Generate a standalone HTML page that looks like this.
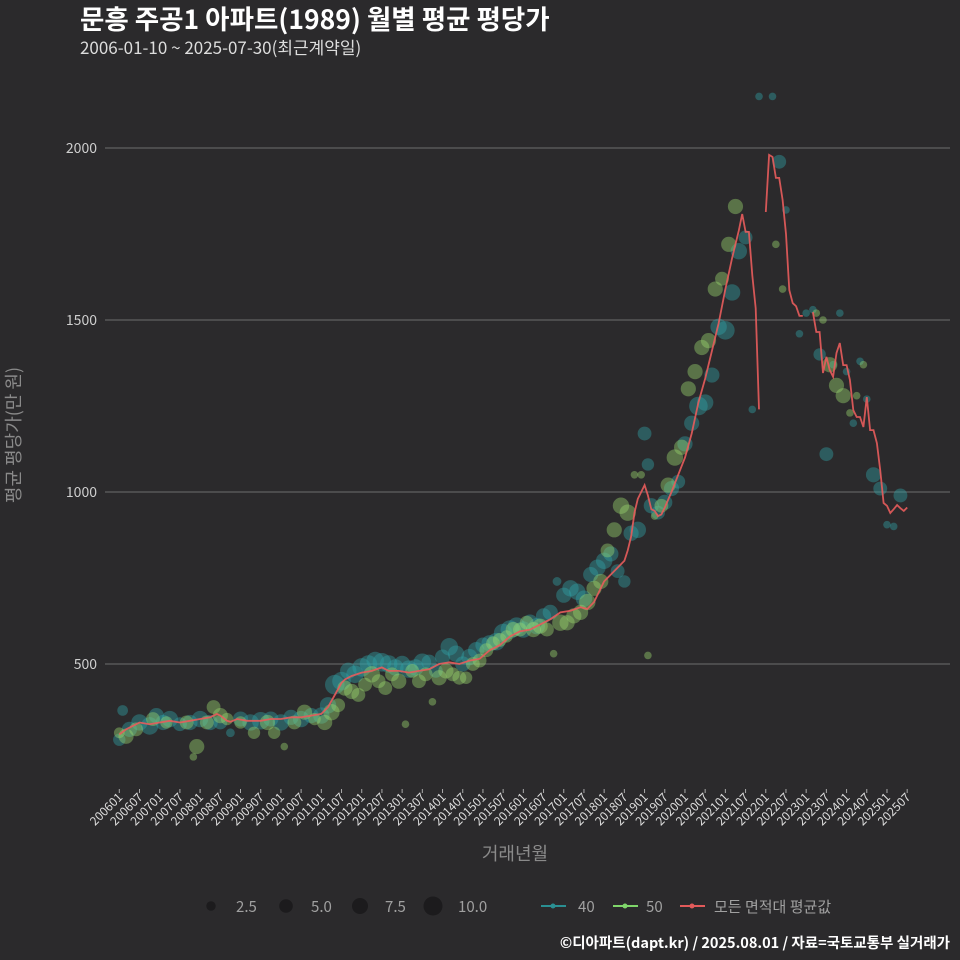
<!DOCTYPE html>
<html><head><meta charset="utf-8">
<style>
html,body{margin:0;padding:0;background:#2b2a2c;overflow:hidden;width:960px;height:960px;}
svg{display:block;}
svg text{font-family:"Noto Sans CJK KR","Liberation Sans",sans-serif;}
</style></head>
<body>
<svg id="chart" width="960" height="960" viewBox="0 0 960 960" xmlns="http://www.w3.org/2000/svg">
<rect width="960" height="960" fill="#2b2a2c"/>
<text x="80" y="29" fill="#ffffff" font-size="26.5" font-weight="bold">문흥 주공1 아파트(1989) 월별 평균 평당가</text>
<text x="80" y="54" fill="#dddddd" font-size="17">2006-01-10 ~ 2025-07-30(최근계약일)</text>
<g id="grid"></g>
<g id="bubbles40"></g>
<g id="bubbles50"></g>
<g id="avgline"></g>
<g id="xaxis"></g>
<text x="0" y="0" transform="translate(20,435) rotate(-90)" text-anchor="middle" fill="#8a8a8a" font-size="18">평균 평당가(만 원)</text>
<text x="515" y="860" text-anchor="middle" fill="#8a8a8a" font-size="18">거래년월</text>
<g>
<circle cx="211" cy="906" r="4.7" fill="#1c1b1d"/>
<text x="236" y="912" fill="#a0a0a0" font-size="15">2.5</text>
<circle cx="286" cy="906" r="6.8" fill="#1c1b1d"/>
<text x="311" y="912" fill="#a0a0a0" font-size="15">5.0</text>
<circle cx="360" cy="906" r="8" fill="#1c1b1d"/>
<text x="385" y="912" fill="#a0a0a0" font-size="15">7.5</text>
<circle cx="433" cy="906" r="9.5" fill="#1c1b1d"/>
<text x="458" y="912" fill="#a0a0a0" font-size="15">10.0</text>
<line x1="541" y1="906" x2="566" y2="906" stroke="#2a8f92" stroke-width="2"/>
<circle cx="553" cy="906" r="2.5" fill="#2a8f92"/>
<text x="578" y="912" fill="#a0a0a0" font-size="15">40</text>
<line x1="613" y1="906" x2="638" y2="906" stroke="#7fd66a" stroke-width="2"/>
<circle cx="625" cy="906" r="2.5" fill="#7fd66a"/>
<text x="646" y="912" fill="#a0a0a0" font-size="15">50</text>
<line x1="680" y1="906" x2="705" y2="906" stroke="#e25a5a" stroke-width="2"/>
<circle cx="692" cy="906" r="2.5" fill="#e25a5a"/>
<text x="714" y="912" fill="#a0a0a0" font-size="15">모든 면적대 평균값</text>
</g>
<text x="950" y="948" text-anchor="end" fill="#ffffff" font-size="14.5" font-weight="bold">©디아파트(dapt.kr) / 2025.08.01 / 자료=국토교통부 실거래가</text>
</svg>
<script>
// y ticks
const yTicks = [500, 1000, 1500, 2000];
// x tick labels (every 6 months from 200601)
const xTickLabels = ["200601","200607","200701","200707","200801","200807","200901","200907","201001","201007","201101","201107","201201","201207","201301","201307","201401","201407","201501","201507","201601","201607","201701","201707","201801","201807","201901","201907","202001","202007","202101","202107","202201","202207","202301","202307","202401","202407","202501","202507"];
// series 40: month index from 2006-01, value, size
const s40Months = [0,1,3,6,9,11,13,15,18,21,24,27,30,33,36,39,42,45,48,51,54,57,60,62,64,66,68,70,72,74,76,78,80,82,84,86,88,90,92,94,96,98,100,102,104,106,108,110,112,114,116,118,120,122,124,126,128,130,132,134,136,138,140,142,144,146,148,150,152,154,156,157,158,160,162,164,166,168,170,172,174,176,178,180,182,184,186,188,190,194,196,198,202,204,206,208,210,212,214,216,218,220,222,224,226,228,230,232];
const s40Values = [280,365,310,330,320,350,330,340,325,330,340,330,330,300,340,330,335,340,330,345,340,350,350,380,440,450,480,470,490,500,510,505,500,490,500,485,490,505,505,480,520,550,530,500,520,540,555,560,565,590,600,610,600,620,610,640,650,740,700,720,710,690,760,780,800,820,770,740,880,890,1170,1080,960,940,970,1010,1030,1140,1200,1250,1260,1340,1480,1470,1580,1700,1740,1240,2150,2150,1960,1820,1460,1520,1530,1400,1110,1370,1520,1350,1200,1380,1270,1050,1010,905,900,990];
const s40Sizes = [4,3,6,7,8,6,6,7,5,6,7,6,5,2,6,7,8,6,7,6,7,6,7,7,10,9,7,8,9,8,8,9,8,7,7,8,7,8,6,5,6,8,7,6,7,7,6,7,8,9,9,8,7,7,7,6,6,2,6,7,7,7,6,7,7,6,5,4,6,7,5,4,6,5,6,6,5,6,6,9,7,6,7,9,7,7,5,1.5,1.5,1.5,5,1.5,1.5,1.5,1.5,4,5,1.5,1.5,1.5,1.5,1.5,1.5,6,5,1.5,1.5,5];
// series 50
const s50Months = [0,2,5,10,14,20,22,23,26,28,30,32,36,40,44,46,49,52,55,58,61,63,65,67,69,71,73,75,77,79,81,83,85,87,89,91,93,95,97,99,101,103,105,107,109,111,113,115,117,119,121,123,125,127,129,131,133,135,137,139,141,143,145,147,149,151,153,155,157,159,161,163,165,167,169,171,173,175,177,179,181,183,195,197,207,209,211,213,215,217,219,221];
const s50Values = [300,290,310,340,330,330,230,260,330,375,350,340,330,300,330,300,260,330,360,340,330,360,380,430,420,410,440,470,450,430,470,450,325,480,450,470,390,460,480,470,460,460,500,510,540,560,570,580,600,600,620,600,610,600,530,620,620,640,650,680,720,740,830,890,960,940,1050,1050,525,930,960,1020,1100,1130,1300,1350,1420,1440,1590,1620,1720,1830,1720,1590,1520,1500,1370,1310,1280,1230,1280,1370];
const s50Sizes = [3,6,5,5,4,5,1.5,6,5,5,6,4,4,4,6,4,1.5,5,6,4,6,7,5,6,6,5,5,7,5,5,5,6,1.5,5,5,5,1.5,6,6,5,5,4,5,5,5,5,5,4,6,5,5,6,6,5,1.5,7,6,6,6,7,6,6,5,6,7,7,1.5,1.5,1.5,1.5,5,6,7,6,6,6,6,6,6,5,6,6,1.5,1.5,1.5,1.5,6,6,6,1.5,1.5,1.5];
// average line (null = gap)
const avgMonths = [0,2,4,6,9,12,15,18,21,24,27,29,30,32,33,35,38,42,45,48,51,54,57,60,62,64,66,67,69,72,75,78,80,83,86,89,92,95,98,101,104,107,110,113,116,119,122,125,128,131,134,137,139,141,144,147,150,151,152,153,154,155,156,157,158,159,160,161,162,164,166,168,170,172,174,176,178,180,182,184,185,186,187,188,189,190,191,192,193,194,195,196,197,198,199,200,201,202,203,204,206,207,208,209,210,211,212,213,214,215,216,217,218,219,220,221,222,223,224,225,226,227,228,229,230,231,232,233,234];
const avgValues = [295,310,320,330,325,330,335,330,335,340,345,355,350,335,332,340,335,335,340,340,345,345,350,355,375,410,445,455,465,475,480,490,480,480,475,480,485,500,505,500,510,515,540,555,580,595,600,615,630,650,655,665,660,680,740,770,800,830,870,940,980,1000,1020,990,950,945,930,935,955,1000,1050,1100,1170,1260,1330,1410,1490,1590,1680,1760,1808,1756,1756,1630,1534,1240,null,1814,1980,1974,1913,1913,1849,1750,1587,1549,1540,1512,1512,null,1523,1465,1465,1346,1393,1355,1335,1404,1433,1369,1369,1326,1238,1218,1218,1189,1276,1180,1180,1142,1064,968,960,939,950,962,953,945,955];

const NS = "http://www.w3.org/2000/svg";
const X0 = 119.3, XPM = 3.367, PL = 105, PR = 950;
function xScale(m){ return X0 + m * XPM; }
function yScale(v){ return 148 + (2000 - v) * 0.344; }
function rScale(s){ return 3.1 * Math.sqrt(s); }

const grid = document.getElementById('grid');
yTicks.forEach(t=>{
  const l = document.createElementNS(NS,'line');
  l.setAttribute('x1',PL); l.setAttribute('x2',PR);
  l.setAttribute('y1',yScale(t)); l.setAttribute('y2',yScale(t));
  l.setAttribute('stroke','#6e6e6e'); l.setAttribute('stroke-width','1');
  
  
  grid.appendChild(l);
  const tx = document.createElementNS(NS,'text');
  tx.setAttribute('x',97); tx.setAttribute('y',yScale(t)+5);
  tx.setAttribute('text-anchor','end'); tx.setAttribute('fill','#cfcfcf'); tx.setAttribute('font-size','14');
  tx.textContent = t;
  
  
  grid.appendChild(tx);
});

const xa = document.getElementById('xaxis');
xTickLabels.forEach((lab,i)=>{
  const x = xScale(i*6);
  const tk = document.createElementNS(NS,'line');
  tk.setAttribute('x1',x); tk.setAttribute('x2',x);
  tk.setAttribute('y1',789); tk.setAttribute('y2',793);
  tk.setAttribute('stroke','#aaaaaa');
  
  
  xa.appendChild(tk);
  const tx = document.createElementNS(NS,'text');
  tx.setAttribute('transform','translate('+(x+4)+',798) rotate(-45)');
  tx.setAttribute('text-anchor','end'); tx.setAttribute('fill','#dddddd'); tx.setAttribute('font-size','12');
  tx.textContent = lab;
  
  
  xa.appendChild(tx);
});

function drawBubbles(gid, months, values, sizes, fill, name){
  const g = document.getElementById(gid);
  months.forEach((m,i)=>{
    const c = document.createElementNS(NS,'circle');
    c.setAttribute('cx',xScale(m)); c.setAttribute('cy',yScale(values[i]));
    c.setAttribute('r',rScale(sizes[i]));
    c.setAttribute('fill',fill); c.setAttribute('fill-opacity','0.42');
    
    
    g.appendChild(c);
  });
}
drawBubbles('bubbles40', s40Months, s40Values, s40Sizes, '#2fa3a6', 'bubble-40');
drawBubbles('bubbles50', s50Months, s50Values, s50Sizes, '#9ad870', 'bubble-50');

const al = document.getElementById('avgline');
let seg = [];
function flush(){
  if(seg.length>1){
    const p = document.createElementNS(NS,'polyline');
    p.setAttribute('points',seg.join(' '));
    p.setAttribute('fill','none'); p.setAttribute('stroke','#e85c5c'); p.setAttribute('stroke-width','1.8');
    p.setAttribute('stroke-opacity','0.9');
    
    
    al.appendChild(p);
  }
  seg = [];
}
avgMonths.forEach((m,i)=>{
  const v = avgValues[i];
  if(v===null){ flush(); return; }
  seg.push(xScale(m).toFixed(1)+','+yScale(v).toFixed(1));
});
flush();
</script>
</body></html>
